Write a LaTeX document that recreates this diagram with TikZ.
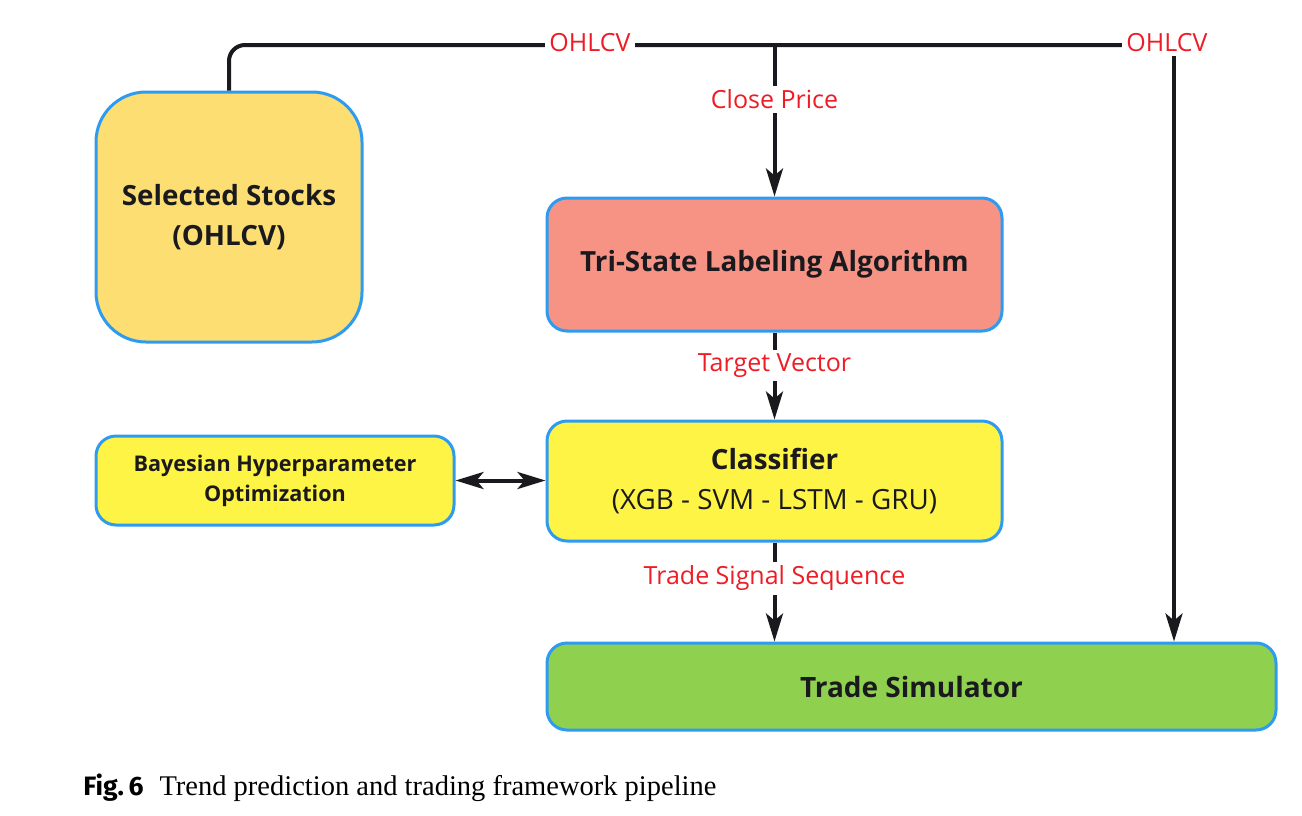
\documentclass[tikz,border=0pt]{standalone}
\usepackage{fontspec}
\setmainfont{Open Sans}
\newfontfamily\capserif{Liberation Serif}
\newfontfamily\capsans{Fira Sans}
\usetikzlibrary{arrows.meta,calc}
\definecolor{boxblue}{HTML}{2D9BF0}
\definecolor{stockfill}{HTML}{FCDE72}
\definecolor{trifill}{HTML}{F69384}
\definecolor{clsfill}{HTML}{FEF445}
\definecolor{simfill}{HTML}{8FD14F}
\definecolor{lblred}{HTML}{EE1C25}
\definecolor{linecol}{HTML}{1A1A1E}
\tikzset{
  x=0.5pt, y=-0.5pt,
  box/.style={draw=boxblue, line width=1.5pt, rounded corners=10pt, align=center, inner sep=0pt, text=linecol},
  conn/.style={draw=linecol, line width=2pt},
  tip/.tip={Stealth[length=14pt,width=8.5pt,inset=3.5pt]},
  arr/.style={conn, -tip},
  lbl/.style={fill=white, text=lblred, font=\fontsize{12.5pt}{14pt}\selectfont, inner sep=2pt},
}
\begin{document}
\begin{tikzpicture}
\useasboundingbox (0,0) rectangle (1302,815);
\node[box, fill=stockfill, rounded corners=25pt, minimum width=133pt, minimum height=125pt,
  font=\bfseries\fontsize{13.9pt}{20pt}\selectfont] (stocks) at (229,217) {Selected Stocks\\(OHLCV)};
\node[box, fill=trifill, minimum width=227.5pt, minimum height=66.5pt,
  font=\bfseries\fontsize{13.9pt}{17pt}\selectfont] (tri) at (774.5,264.5) {Tri-State Labeling Algorithm};
\node[box, fill=clsfill, minimum width=227.5pt, minimum height=60pt,
  font=\fontsize{13.9pt}{20pt}\selectfont] (cls) at (774.5,481) {{\bfseries Classifier}\\(XGB - SVM - LSTM - GRU)};
\node[box, fill=clsfill, minimum width=179pt, minimum height=44.5pt,
  font=\bfseries\fontsize{10.8pt}{15pt}\selectfont] (bay) at (275,480.5) {Bayesian Hyperparameter\\Optimization};
\node[box, fill=simfill, minimum width=364.5pt, minimum height=43.5pt,
  font=\bfseries\fontsize{14pt}{17pt}\selectfont] (sim) at (911.5,686.5) {Trade Simulator};

\coordinate (tr) at (1174,45);
\draw[conn, rounded corners=8pt] (stocks.north) |- (tr);
\draw[arr] (tr) -- (sim.north -| tr);
\node[lbl] (oh1) at (590,43) {OHLCV};
\node[lbl] (oh2) at (1167,43) {OHLCV};

\draw[arr] (tri.north |- tr) -- (tri.north) node[lbl, pos=0.36] (cp) {Close Price};
\draw[arr] (tri.south) -- (cls.north) node[lbl, pos=0.38] (tv) {Target Vector};
\draw[arr] (cls.south) -- (sim.north -| cls.south) node[lbl, pos=0.36] (ts) {Trade Signal Sequence};
\draw[conn, tip-tip] (bay.east) -- (cls.west |- bay.east);

\node[anchor=base west, inner sep=0pt] (cap) at (83,795)
  {{\capsans\bfseries\fontsize{13.3pt}{15pt}\selectfont Fig.\,6}\hspace{8pt}{\capserif\fontsize{14.25pt}{17pt}\selectfont Trend prediction and trading framework pipeline}};
\end{tikzpicture}
\end{document}
